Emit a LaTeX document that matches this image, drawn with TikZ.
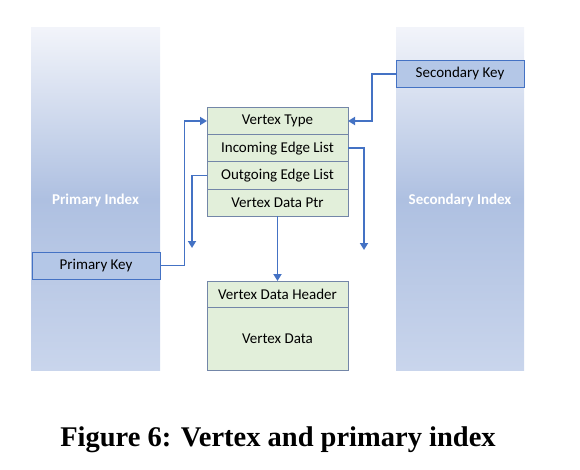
\documentclass[tikz,border=0pt]{standalone}
\usepackage{fontspec}
\setmainfont{Carlito}
\newfontfamily\capfont{Liberation Serif}
\usepackage{tikz}
\usetikzlibrary{positioning,arrows.meta}

\definecolor{rowgreen}{HTML}{E2EFDA}
\definecolor{rowline}{HTML}{7386A8}
\definecolor{linkblue}{HTML}{4472C4}
\definecolor{keyblue}{HTML}{B4C7E7}
\definecolor{idxtop}{HTML}{F2F4FA}
\definecolor{idxmid}{HTML}{AEC0E1}
\definecolor{idxbot}{HTML}{C9D5EC}

\begin{document}
\begin{tikzpicture}[x=1pt, y=-1pt,
    every node/.style={inner sep=0pt, font=\fontsize{15}{18}\selectfont},
    row/.style={draw=rowline, fill=rowgreen, line width=0.8pt, outer sep=0pt,
      minimum width=141pt, minimum height=27.25pt},
    key/.style={draw=linkblue, fill=keyblue, line width=0.8pt,
      minimum width=128pt, minimum height=27pt},
    idxlabel/.style={text=white, font=\bfseries\fontsize{15}{18}\selectfont},
    link/.style={draw=linkblue, line width=1.8pt, -{Triangle[length=7pt,width=8pt]}},
    idx/.style={top color=idxtop, bottom color=idxbot, middle color=idxmid}]

    \useasboundingbox (0,0) rectangle (580,470);

    % the two index columns
    \shade[idx] (31,28) rectangle (160,370);
    \shade[idx] (396,28) rectangle (524,370);
    \node[idxlabel] (pidx) at (95.5,200) {Primary Index};
    \node[idxlabel] (sidx) at (460,200) {Secondary Index};

    \node[key] (pkey) at (96,265.5) {Primary Key};
    \node[key] (skey) at (460,74) {Secondary Key};

    % vertex record
    \node[row] (vtype) at (277.5,121) {Vertex Type};
    \node[row, below=0pt of vtype] (inedge) {Incoming Edge List};
    \node[row, below=0pt of inedge] (outedge) {Outgoing Edge List};
    \node[row, below=0pt of outedge] (dptr) {Vertex Data Ptr};

    % vertex data
    \node[row, minimum height=26pt] (dhead) at (277.5,294) {Vertex Data Header};
    \node[row, minimum height=63pt, below=0pt of dhead] (vdata) {Vertex Data};

    \coordinate (ofree) at (192,248);
    \coordinate (ifree) at (364,250);

    \draw[link] (pkey.east) -- ++(24,0) |- (vtype.west);
    \draw[link] (skey.west) -- ++(-24,0) |- (vtype.east);
    \draw[link] (outedge.west) -| (ofree);
    \draw[link] (inedge.east) -| (ifree);
    \draw[link] (dptr.south) -- (dhead.north);

    \node[anchor=base, font=\capfont\bfseries\fontsize{28.5}{33}\selectfont] (cap) at (278,446)
      {Figure 6: Vertex and primary index};
\end{tikzpicture}
\end{document}
